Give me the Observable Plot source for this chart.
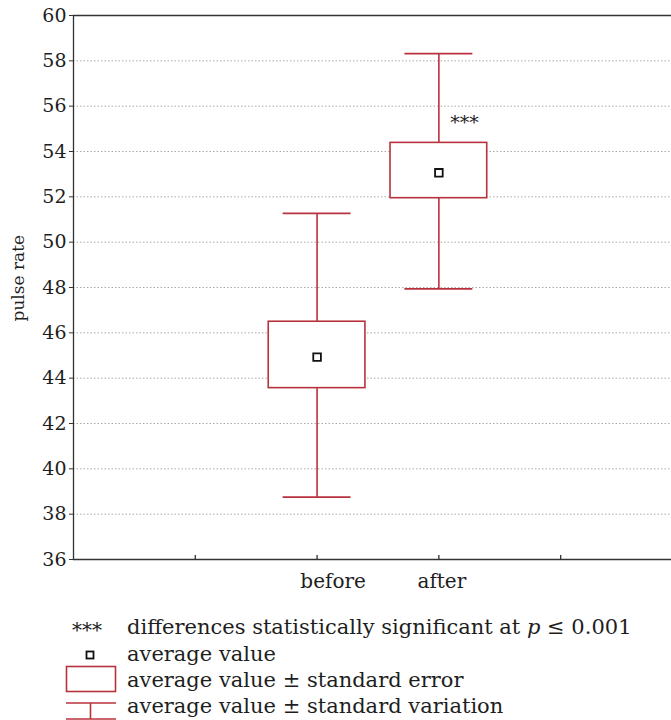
<!DOCTYPE html>
<html><head><meta charset="utf-8">
<script src="https://cdn.jsdelivr.net/npm/d3@7"></script>
<script src="https://cdn.jsdelivr.net/npm/@observablehq/plot@0.6"></script>
<style>
body{margin:0;background:#fff;overflow:hidden;font-family:"DejaVu Serif",serif;}
#chart{position:relative;width:671px;height:720px;}
#legend{position:absolute;left:0;top:600px;}
</style></head><body><div id="chart"></div>
<script>
// ---- data ----
const groups = ["before", "after"];
const groupPos = [2, 3];
const mean = [44.93, 53.06];
const seLow = [43.56, 51.94];
const seHigh = [46.49, 54.38];
const sdLow = [38.75, 47.94];
const sdHigh = [51.27, 58.32];
const signif = ["", "***"];
const yTicks = [36, 38, 40, 42, 44, 46, 48, 50, 52, 54, 56, 58, 60];
const xTicks = [1, 2, 3, 4];
const yLabel = "pulse rate";
const legendTexts = [
  "differences statistically significant at ",
  "average value",
  "average value ± standard error",
  "average value ± standard variation"
];

const table = groups.map((g, i) => ({
  group: g, pos: groupPos[i], mean: mean[i], seLow: seLow[i], seHigh: seHigh[i],
  sdLow: sdLow[i], sdHigh: sdHigh[i], sig: signif[i]
}));

const red = "#b8323e";
const ink = "#1e1e1e";
const boxHalf = 0.397, capHalf = 0.279;

const plot = Plot.plot({
  width: 671, height: 600,
  marginLeft: 73, marginRight: 0, marginTop: 15, marginBottom: 41,
  style: {fontFamily: "DejaVu Serif", fontSize: "19px", color: ink, background: "white", overflow: "visible"},
  x: {domain: [0, 4.91], axis: null},
  y: {domain: [yTicks[0], yTicks[yTicks.length - 1]], axis: null},
  marks: [
    Plot.gridY(yTicks.slice(1, -1), {stroke: "#aaa", strokeOpacity: 1, strokeDasharray: "1.5,2"}),
    Plot.ruleY([yTicks[0], yTicks[yTicks.length - 1]], {stroke: "#333", strokeWidth: 1.3}),
    Plot.ruleX([0], {stroke: "#333", strokeWidth: 1.3}),
    Plot.axisY({ticks: yTicks, tickSize: 4, tickPadding: 3, fontSize: 19, label: null, stroke: "#333"}),
    Plot.tickX(xTicks, {insetTop: 540, stroke: "#333", strokeWidth: 1.3}),
    Plot.text(table.filter(d => d.group === "before"), {x: "pos", text: "group", frameAnchor: "bottom", dy: 28, dx: 16, fontSize: 20, fill: ink}),
    Plot.text(table.filter(d => d.group === "after"), {x: "pos", text: "group", frameAnchor: "bottom", dy: 28, dx: 3, fontSize: 20, fill: ink}),
    Plot.text([yLabel], {frameAnchor: "left", rotate: -90, dx: -55, dy: 34, fontSize: 17, fill: ink}),
    // whiskers
    Plot.ruleX(table, {x: "pos", y1: "sdLow", y2: "seLow", stroke: red, strokeWidth: 1.6}),
    Plot.ruleX(table, {x: "pos", y1: "seHigh", y2: "sdHigh", stroke: red, strokeWidth: 1.6}),
    Plot.ruleY(table, {y: "sdHigh", x1: d => d.pos - capHalf, x2: d => d.pos + capHalf, stroke: red, strokeWidth: 1.6}),
    Plot.ruleY(table, {y: "sdLow", x1: d => d.pos - capHalf, x2: d => d.pos + capHalf, stroke: red, strokeWidth: 1.6}),
    // SE boxes
    Plot.rect(table, {x1: d => d.pos - boxHalf, x2: d => d.pos + boxHalf, y1: "seLow", y2: "seHigh", fill: "white", stroke: red, strokeWidth: 1.6}),
    // means
    Plot.dot(table, {x: "pos", y: "mean", symbol: "square", r: 4.3, fill: "white", stroke: "#111", strokeWidth: 1.8}),
    // significance
    Plot.text(table, {x: d => d.pos + 0.21, y: "seHigh", text: "sig", dy: -20, fontSize: 19, fill: ink})
  ]
});

const chart = document.getElementById("chart");
chart.appendChild(plot);

// ---- legend ----
const ns = "http://www.w3.org/2000/svg";
const leg = document.createElementNS(ns, "svg");
leg.setAttribute("id", "legend");
leg.setAttribute("width", 671);
leg.setAttribute("height", 120);
leg.setAttribute("font-family", "DejaVu Serif");
leg.setAttribute("font-size", "21");
leg.setAttribute("fill", ink);
const baselines = [34, 61, 87, 113];
function el(tag, attrs, text) {
  const e = document.createElementNS(ns, tag);
  for (const k in attrs) e.setAttribute(k, attrs[k]);
  if (text != null) e.textContent = text;
  leg.appendChild(e);
  return e;
}
// row 1
el("text", {x: 87, y: baselines[0] + 3, "text-anchor": "middle", "font-size": 20}, signif[1]);
const t1 = el("text", {x: 127, y: baselines[0]});
t1.appendChild(document.createTextNode(legendTexts[0]));
const it = document.createElementNS(ns, "tspan"); it.setAttribute("font-style", "italic"); it.textContent = "p"; t1.appendChild(it);
t1.appendChild(document.createTextNode(" ≤ 0.001"));
// row 2
el("rect", {x: 86.5, y: 51.5, width: 7, height: 7, fill: "white", stroke: "#111", "stroke-width": 1.8});
el("text", {x: 127, y: baselines[1]}, legendTexts[1]);
// row 3
el("rect", {x: 66.5, y: 66.5, width: 49, height: 25, fill: "white", stroke: red, "stroke-width": 1.6});
el("text", {x: 127, y: baselines[2]}, legendTexts[2]);
// row 4
el("line", {x1: 66, x2: 116, y1: 103, y2: 103, stroke: red, "stroke-width": 1.6});
el("line", {x1: 90.5, x2: 90.5, y1: 103, y2: 119, stroke: red, "stroke-width": 1.6});
el("line", {x1: 66, x2: 116, y1: 119, y2: 119, stroke: red, "stroke-width": 1.6});
el("text", {x: 127, y: baselines[3]}, legendTexts[3]);
chart.appendChild(leg);
</script></body></html>
